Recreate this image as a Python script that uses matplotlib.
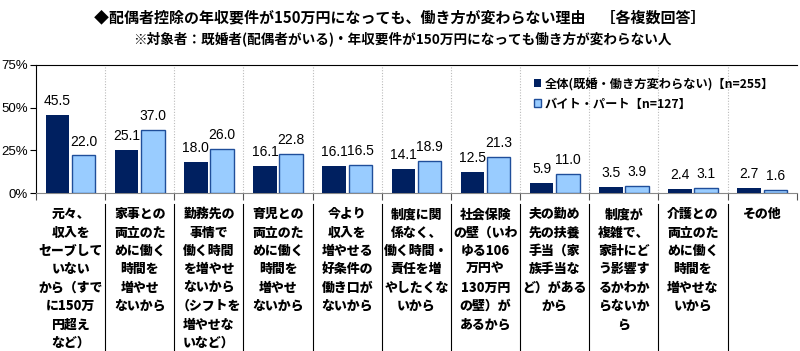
import matplotlib
matplotlib.use('Agg')
import matplotlib.pyplot as plt
from matplotlib.lines import Line2D
from matplotlib.transforms import blended_transform_factory

plt.rcParams['font.family'] = ['Noto Sans CJK JP', 'DejaVu Sans']

# データ
categories = [
    '元々、\n収入を\nセーブして\nいない\nから（すで\nに150万\n円超え\nなど）',
    '家事との\n両立のた\nめに働く\n時間を\n増やせ\nないから',
    '勤務先の\n事情で\n働く時間\nを増やせ\nないから\n（シフトを\n増やせな\nいなど）',
    '育児との\n両立のた\nめに働く\n時間を\n増やせ\nないから',
    '今より\n収入を\n増やせる\n好条件の\n働き口が\nないから',
    '制度に関\n係なく、\n働く時間・\n責任を増\nやしたくな\nいから',
    '社会保険\nの壁（いわ\nゆる106\n万円や\n130万円\nの壁）が\nあるから',
    '夫の勤め\n先の扶養\n手当（家\n族手当な\nど）がある\nから',
    '制度が\n複雑で、\n家計にど\nう影響す\nるかわか\nらないか\nら',
    '介護との\n両立のた\nめに働く\n時間を\n増やせな\nいから',
    'その他',
]
zentai = [45.5, 25.1, 18.0, 16.1, 16.1, 14.1, 12.5, 5.9, 3.5, 2.4, 2.7]
part = [22.0, 37.0, 26.0, 22.8, 16.5, 18.9, 21.3, 11.0, 3.9, 3.1, 1.6]
legend_labels = ['全体(既婚・働き方変わらない)【n=255】', 'バイト・パート【n=127】']
yticks = [0, 25, 50, 75]

fig = plt.figure(figsize=(8, 3.51), dpi=100)
ax = fig.add_axes([0.045, 0.450, 0.951, 0.365])

x = list(range(len(categories)))
w = 0.34
off = 0.19
b1 = ax.bar([i - off for i in x], zentai, w, color='#002060', label=legend_labels[0], zorder=3)
b2 = ax.bar([i + off for i in x], part, w, color='#99CCFF', edgecolor='#1F4E9A', linewidth=1.0,
            label=legend_labels[1], zorder=3)

for bars, vals in ((b1, zentai), (b2, part)):
    for r, v in zip(bars, vals):
        ax.annotate('%.1f' % v, (r.get_x() + r.get_width() / 2, r.get_height()),
                    xytext=(0, 5), textcoords='offset points', ha='center', va='bottom',
                    fontsize=10, family=['Liberation Sans', 'DejaVu Sans'])

ax.set_xlim(-0.5, len(categories) - 0.5)
ax.set_ylim(0, 75)
ax.set_yticks(yticks)
ax.set_yticklabels(['%d%%' % t for t in yticks], fontsize=9.5, family=['Liberation Sans', 'DejaVu Sans'])
ax.tick_params(axis='y', direction='out', length=4, pad=2)
ax.set_xticks([i - 0.5 for i in range(len(categories) + 1)])
ax.set_xticklabels([])
ax.tick_params(axis='x', direction='out', length=5, color='#555555')

# 縦の点線
for i in range(len(categories) - 1):
    ax.axvline(i + 0.5, color='#BBBBBB', linestyle=(0, (1, 1.5)), linewidth=0.8, zorder=1)

ax.spines['right'].set_visible(False)
ax.spines['bottom'].set_color('#888888')

# 項目ラベルと区切り線
trans = blended_transform_factory(ax.transData, ax.transAxes)
for i, lab in enumerate(categories):
    ax.text(i, -0.11, lab, transform=trans, ha='center', va='top', fontsize=9.3,
            fontweight='heavy', linespacing=1.40)
for i in range(len(categories) - 1):
    ax.add_line(Line2D([i + 0.5, i + 0.5], [-0.086, -1.25], transform=trans, color='black',
                       linewidth=0.8, clip_on=False))

leg = ax.legend(loc='upper right', bbox_to_anchor=(0.985, 0.99), frameon=False,
                prop={'weight': 'bold', 'size': 8.8}, handlelength=0.6, handleheight=0.6,
                handletextpad=0.3, labelspacing=0.6)

# タイトル
fig.text(0.5, 0.95, '◆配偶者控除の年収要件が150万円になっても、働き方が変わらない理由　［各複数回答］',
         ha='center', va='center', fontsize=10.8, fontweight='bold')
fig.text(0.503, 0.89, '※対象者：既婚者(配偶者がいる)・年収要件が150万円になっても働き方が変わらない人',
         ha='center', va='center', fontsize=9.8, fontweight='bold')

plt.savefig('out.png', dpi=100)
